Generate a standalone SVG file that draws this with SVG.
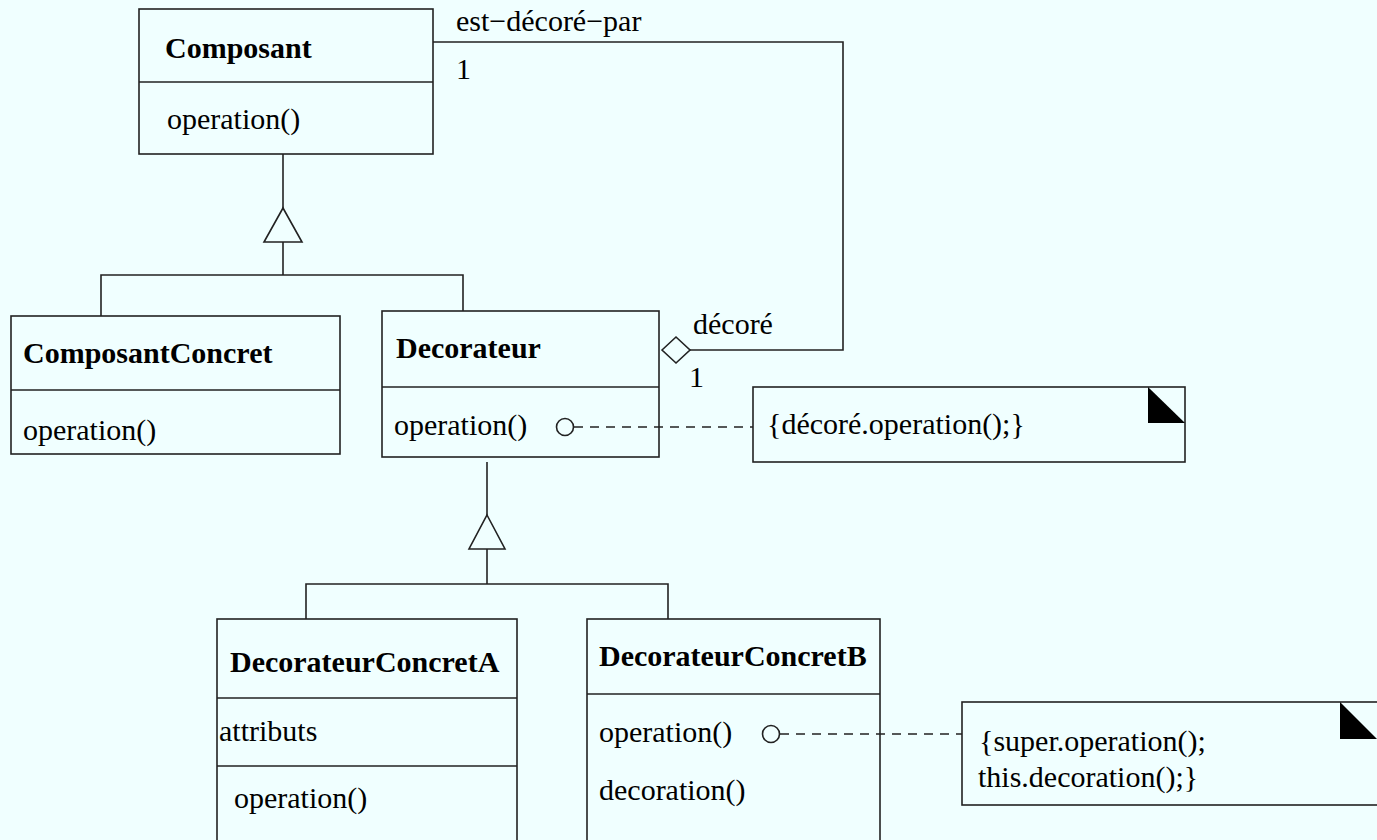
<svg xmlns="http://www.w3.org/2000/svg" width="1377" height="840" viewBox="0 0 1377 840">
  <style>
    .box { fill: #F0FFFF; stroke: #222; stroke-width: 1.6; }
    .line { fill: none; stroke: #222; stroke-width: 1.6; }
    .dash { fill: none; stroke: #222; stroke-width: 1.3; stroke-dasharray: 9 7; }
    .tri { fill: #F0FFFF; stroke: #222; stroke-width: 1.6; }
    .corner { fill: #000; stroke: none; }
    text { font-family: "Liberation Serif", "Times New Roman", serif; font-size: 30px; fill: #000; }
    .title { font-weight: bold; }
  </style>
  <rect width="1377" height="840" fill="#F0FFFF"/>

  <!-- Connectors -->
  <g id="connectors">
    <!-- association Composant / Decorateur -->
    <polyline class="line" points="433,42 843,42 843,350 690,350"/>
    <polygon class="tri" points="662,350 676,337 690,350 676,363"/>
    <text x="456" y="31">est−décoré−par</text>
    <text x="456" y="79">1</text>
    <text x="693" y="334">décoré</text>
    <text x="689" y="387">1</text>

    <!-- generalization to Composant -->
    <line class="line" x1="283" y1="154" x2="283" y2="208"/>
    <polygon class="tri" points="283,208 302,242 264,242"/>
    <line class="line" x1="283" y1="242" x2="283" y2="275"/>
    <polyline class="line" points="101,316 101,275 463,275 463,311"/>

    <!-- generalization to Decorateur -->
    <line class="line" x1="487" y1="462" x2="487" y2="515"/>
    <polygon class="tri" points="487,515 505,549 469,549"/>
    <line class="line" x1="487" y1="549" x2="487" y2="584"/>
    <polyline class="line" points="306,619 306,584 668,584 668,619"/>
  </g>

  <!-- Composant -->
  <g id="composant">
    <rect class="box" x="139" y="9" width="294" height="145"/>
    <line class="line" x1="139" y1="82" x2="433" y2="82"/>
    <text class="title" x="165" y="58">Composant</text>
    <text x="167" y="129">operation()</text>
  </g>

  <!-- ComposantConcret -->
  <g id="composantConcret">
    <rect class="box" x="11" y="316" width="329" height="138"/>
    <line class="line" x1="11" y1="390" x2="340" y2="390"/>
    <text class="title" x="23" y="363">ComposantConcret</text>
    <text x="23" y="440">operation()</text>
  </g>

  <!-- Decorateur -->
  <g id="decorateur">
    <rect class="box" x="382" y="311" width="277" height="146"/>
    <line class="line" x1="382" y1="387" x2="659" y2="387"/>
    <text class="title" x="396" y="358">Decorateur</text>
    <text x="394" y="435">operation()</text>
  </g>

  <!-- Note on Decorateur.operation -->
  <g id="note1">
    <rect class="box" x="753" y="387" width="432" height="75"/>
    <polygon class="corner" points="1148,387 1185,423 1148,423"/>
    <text x="767" y="434">{décoré.operation();}</text>
  </g>
  <g id="link1">
    <circle class="line" cx="565" cy="427" r="8.5"/>
    <line class="dash" x1="574" y1="427" x2="753" y2="427"/>
  </g>

  <!-- DecorateurConcretA -->
  <g id="decorateurConcretA">
    <rect class="box" x="217" y="619" width="300" height="240"/>
    <line class="line" x1="217" y1="698" x2="517" y2="698"/>
    <line class="line" x1="217" y1="766" x2="517" y2="766"/>
    <text class="title" x="230" y="672">DecorateurConcretA</text>
    <text x="219" y="741">attributs</text>
    <text x="234" y="808">operation()</text>
  </g>

  <!-- DecorateurConcretB -->
  <g id="decorateurConcretB">
    <rect class="box" x="587" y="619" width="293" height="240"/>
    <line class="line" x1="587" y1="694" x2="880" y2="694"/>
    <text class="title" x="599" y="666">DecorateurConcretB</text>
    <text x="599" y="742">operation()</text>
    <text x="599" y="800">decoration()</text>
  </g>

  <!-- Note on DecorateurConcretB.operation -->
  <g id="note2">
    <rect class="box" x="962" y="702" width="430" height="103"/>
    <polygon class="corner" points="1340,702 1377,739 1340,739"/>
    <text x="979" y="751">{super.operation();</text>
    <text x="978" y="787">this.decoration();}</text>
  </g>
  <g id="link2">
    <circle class="line" cx="771" cy="734" r="8.5"/>
    <line class="dash" x1="780" y1="734" x2="962" y2="734"/>
  </g>
</svg>
